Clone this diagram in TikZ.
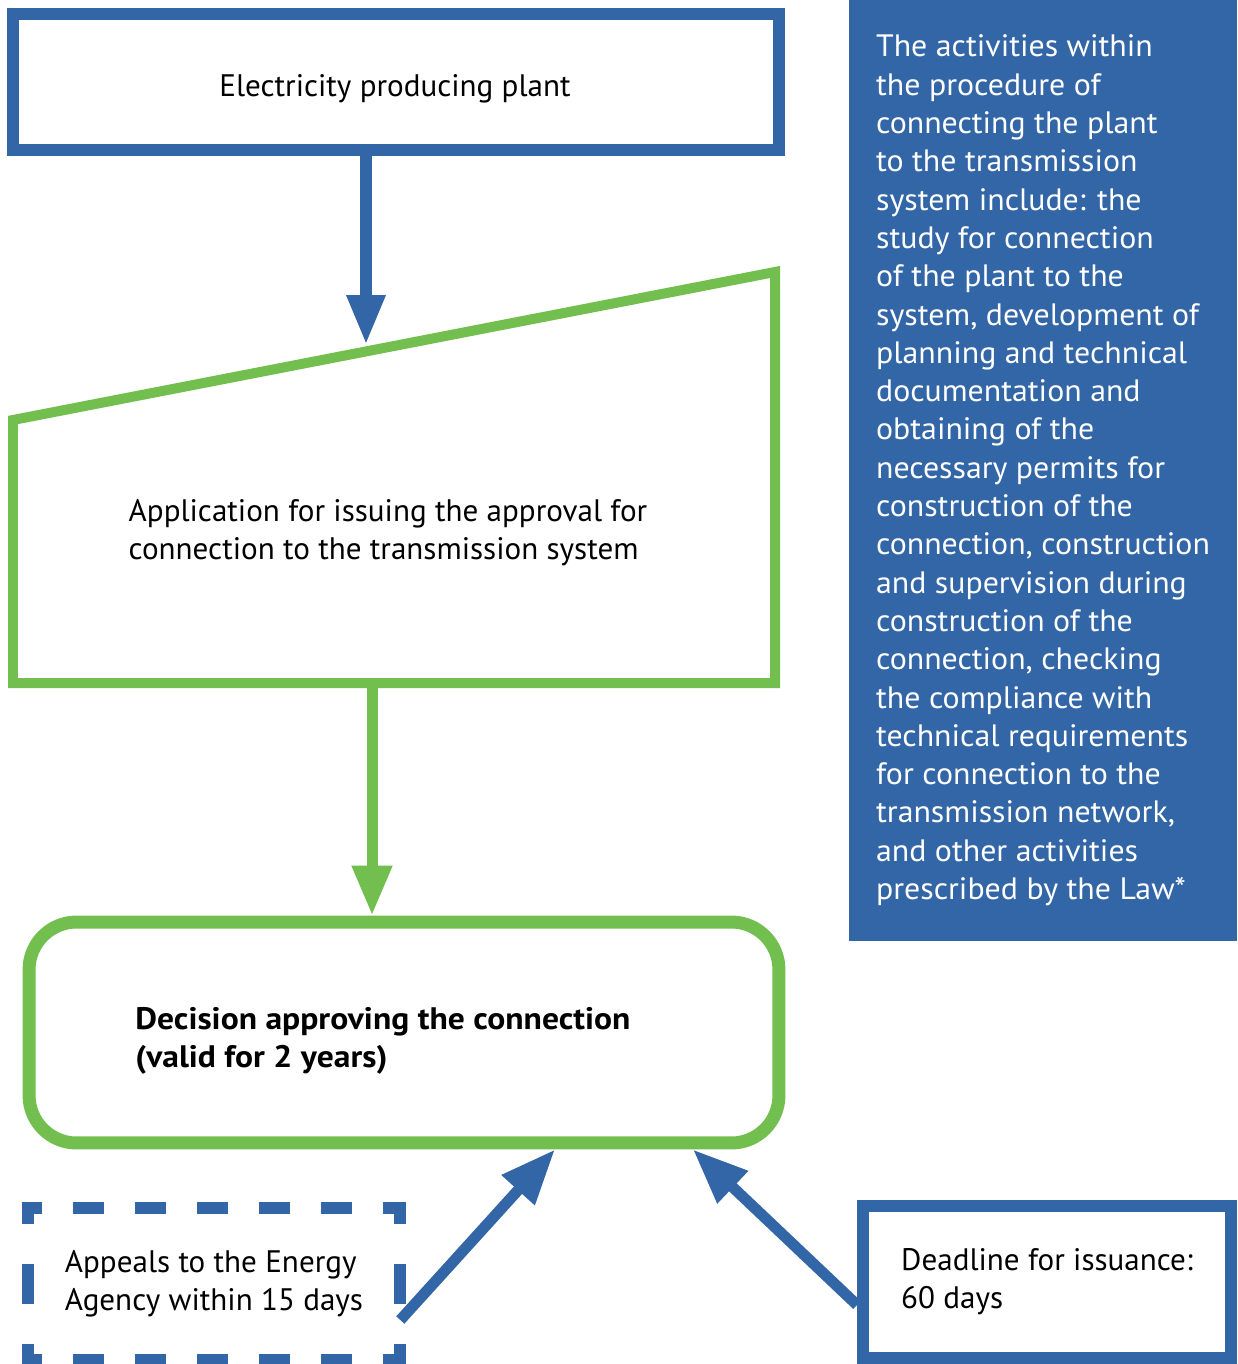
\documentclass[tikz,border=0pt]{standalone}
\usepackage{fontspec}
\setmainfont{PT Sans}
\newfontfamily\widefont[FakeStretch=1.03]{PT Sans}
\newfontfamily\decfont[FakeStretch=1.08]{PT Sans}
\usetikzlibrary{positioning,arrows.meta}
\definecolor{eblue}{RGB}{51,102,166}
\definecolor{egreen}{RGB}{114,191,80}
\tikzset{
  bluebox/.style  ={draw=eblue, rectangle, line width=0.24cm, align=left, inner sep=0pt, font=\fontsize{17.7}{21.5}\selectfont},
  plainbox/.style ={rectangle, align=left, inner sep=0pt, font=\fontsize{17.7}{21.5}\selectfont},
  dashh/.style    ={draw=eblue, line width=0.24cm, dash pattern=on 0.62cm off 0.62cm, dash phase=0.22cm},
  dashv/.style    ={draw=eblue, line width=0.24cm, dash pattern=on 0.8cm off 0.8cm, dash phase=0.48cm},
  greenbox/.style ={draw=egreen, rectangle, rounded corners=0.95cm, line width=0.26cm},
  infobox/.style  ={fill=eblue, rectangle, align=left, inner sep=0pt, text=white, font=\widefont\fontsize{17.6}{21.8}\selectfont},
  txt/.style      ={align=left, inner sep=0pt, font=\fontsize{17.7}{21.5}\selectfont},
  gline/.style    ={draw=egreen, line width=0.2cm},
  barrow/.style   ={draw=eblue, line width=0.24cm, -{Triangle[length=1cm, width=0.72cm]}},
  garrow/.style   ={draw=egreen, line width=0.22cm, -{Triangle[length=1cm, width=0.76cm]}},
  slant/.style    ={draw=eblue, line width=0.22cm, -{Triangle[length=1.1cm, width=0.84cm]}},
}
\begin{document}
\begin{tikzpicture}[x=0.02cm, y=-0.02cm]
  \useasboundingbox (0,0) rectangle (1237,1364);

  \node[infobox, minimum width=7.76cm, minimum height=18.82cm] (info) at (1043,470.5)
    {The activities within\\the procedure of\\connecting the plant\\to the transmission\\system include: the\\study for connection\\of the plant to the\\system, development of\\planning and technical\\documentation and\\obtaining of the\\necessary permits for\\construction of the\\connection, construction\\and supervision during\\construction of the\\connection, checking\\the compliance with\\technical requirements\\for connection to the\\transmission network,\\and other activities\\prescribed by the Law*};

  \node[bluebox, minimum width=15.32cm, minimum height=2.72cm] (plant) at (396,82) {};
  \node[txt] (plantText) at (395,89) {Electricity producing plant};

  % application shape: slanted top edge
  \draw[gline] (13,683) -- (13,420) -- (775,272) -- (775,683) -- cycle;
  \node[txt] (app) at (388,533) {Application for issuing the approval for\\connection to the transmission system};
  \coordinate (appTop) at (366,345);
  \coordinate (appBot) at (372,683);

  \node[greenbox, minimum width=15cm, minimum height=4.42cm] (decision) at (404,1032.5) {};
  \node[txt, font=\decfont\bfseries\fontsize{17.7}{21.5}\selectfont, anchor=west] (decisionText) at (135,1041)
    {Decision approving the connection\\(valid for 2 years)};

  % dashed appeal box, edges drawn one by one
  \node[plainbox, minimum width=7.44cm, minimum height=3.04cm] (appeal) at (214,1284) {Appeals to the Energy\\Agency within 15 days};
  \draw[dashh] ([xshift=-0.12cm]appeal.north west) -- ([xshift=0.12cm]appeal.north east);
  \draw[dashh] ([xshift=-0.12cm]appeal.south west) -- ([xshift=0.12cm]appeal.south east);
  \draw[dashv] (appeal.north west) -- (appeal.south west);
  \draw[dashv] (appeal.north east) -- (appeal.south east);

  \node[bluebox, minimum width=7.36cm, minimum height=3.04cm] (deadline) at (1047,1282) {Deadline for issuance:\\60 days};

  \draw[barrow] (plant.south -| appTop) -- (appTop);
  \draw[garrow] (appBot) -- (decision.north -| appBot);
  \draw[slant] ([yshift=-0.72cm]appeal.east) -- ([xshift=3.02cm]decision.south);
  \draw[slant] ([yshift=-0.46cm]deadline.west) -- ([xshift=5.78cm]decision.south);
\end{tikzpicture}
\end{document}
